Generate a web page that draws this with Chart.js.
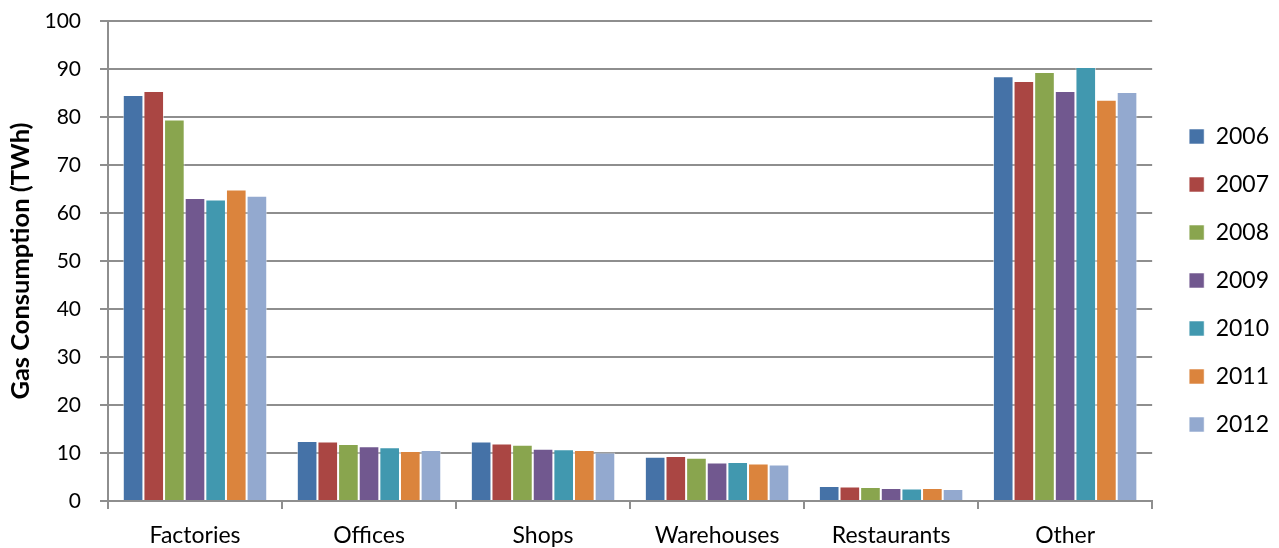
<!DOCTYPE html>
<html>
<head>
<meta charset="utf-8">
<script src="https://cdn.jsdelivr.net/npm/chart.js@4"></script>
<style>
  html, body { margin: 0; padding: 0; background: #fff; }
  #wrap { width: 1279px; height: 548px; }
</style>
</head>
<body>
<div id="wrap"><canvas id="myChart"></canvas></div>
<script>
const categories = ["Factories", "Offices", "Shops", "Warehouses", "Restaurants", "Other"];
const years = ["2006", "2007", "2008", "2009", "2010", "2011", "2012"];

// gas use per sector, TWh
const y2006 = [84.6, 12.5, 12.4, 9.2, 3.1, 88.5];
const y2007 = [85.4, 12.4, 12.0, 9.4, 3.0, 87.5];
const y2008 = [79.5, 11.9, 11.7, 9.0, 2.9, 89.4];
const y2009 = [63.1, 11.4, 10.9, 8.0, 2.7, 85.4];
const y2010 = [62.8, 11.2, 10.8, 8.1, 2.6, 90.4];
const y2011 = [64.9, 10.4, 10.6, 7.8, 2.7, 83.6];
const y2012 = [63.6, 10.6, 10.1, 7.6, 2.5, 85.2];

const yTicks = [0, 10, 20, 30, 40, 50, 60, 70, 80, 90, 100];

const colors = ["#4572A7", "#AA4643", "#89A54E", "#71588F", "#4198AF", "#DB843D", "#93A9CF"];
const series = [y2006, y2007, y2008, y2009, y2010, y2011, y2012];

const gridColor = '#8e8e8e';
const ctx = document.getElementById('myChart');

new Chart(ctx, {
    type: 'bar',
    data: {
        labels: categories,
        datasets: series.map((vals, i) => ({
            label: years[i],
            data: vals,
            backgroundColor: colors[i],
            borderColor: 'rgba(255,255,255,0.55)',
            borderWidth: 1,
            categoryPercentage: 0.83,
            barPercentage: 1.0
        }))
    },
    options: {
        responsive: true,
        maintainAspectRatio: false,
        animation: false,
        layout: { padding: { top: 13, left: 0, right: 0, bottom: 0 } },
        plugins: {
            legend: {
                position: 'right',
                labels: {
                    boxWidth: 15,
                    boxHeight: 15,
                    padding: 25,
                    color: '#000',
                    font: { family: 'Lato', size: 23 }
                }
            },
            tooltip: { enabled: false }
        },
        scales: {
            x: {
                offset: true,
                grid: {
                    offset: true,
                    drawOnChartArea: false,
                    tickLength: 8,
                    color: gridColor,
                    lineWidth: 2
                },
                border: { color: gridColor, width: 2 },
                ticks: {
                    color: '#000',
                    padding: 13,
                    font: { family: 'Lato', size: 23 }
                },
                afterFit: (scale) => { scale.height = 47; }
            },
            y: {
                min: 0,
                max: 100,
                afterBuildTicks: (scale) => {
                    scale.ticks = yTicks.map(v => ({ value: v }));
                },
                grid: {
                    color: gridColor,
                    lineWidth: 2,
                    tickLength: 8
                },
                border: { color: gridColor, width: 2 },
                ticks: {
                    color: '#000',
                    padding: 19,
                    font: { family: 'Lato', size: 21 }
                },
                title: {
                    display: true,
                    text: 'Gas Consumption (TWh)',
                    color: '#000',
                    font: { family: 'Lato', size: 25.5, weight: 'bold' },
                    padding: 5
                },
                afterFit: (scale) => {
                    scale.width = 108;
                    // plot top sits at 21px from the canvas edge
                    scale.paddingTop = 21;
                    scale.paddingBottom = 12;
                }
            },
            // empty spacer between the plot and the legend
            gap: {
                type: 'linear',
                position: 'right',
                grid: { display: false },
                border: { display: false },
                ticks: { display: false },
                afterFit: (scale) => { scale.width = 12; }
            }
        }
    }
});
</script>
</body>
</html>
